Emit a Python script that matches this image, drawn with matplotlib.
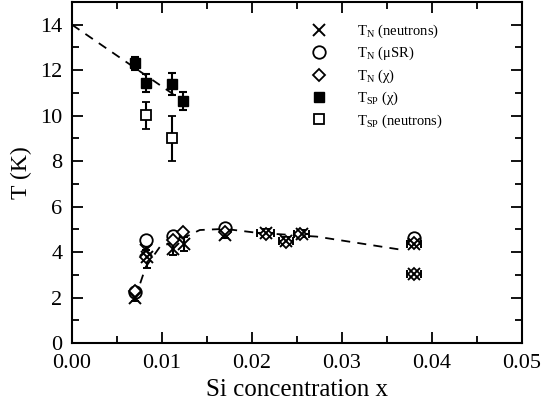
import matplotlib
matplotlib.use("Agg")
import matplotlib.pyplot as plt
import numpy as np
from matplotlib.ticker import MultipleLocator
from matplotlib.lines import Line2D

plt.rcParams['font.family'] = ['Liberation Serif', 'DejaVu Serif']
plt.rcParams['mathtext.fontset'] = 'custom'
plt.rcParams['mathtext.rm'] = 'Liberation Serif'
plt.rcParams['mathtext.it'] = 'Liberation Serif:italic'

# T_SP (chi), filled squares
sp_chi_x = [0.00704, 0.0082, 0.01115, 0.0123]
sp_chi_y = [12.3, 11.42, 11.39, 10.66]
sp_chi_err = [0.3, 0.4, 0.5, 0.4]

# T_SP (neutrons), open squares
sp_neu_x = [0.0082, 0.01115]
sp_neu_y = [10.02, 9.0]
sp_neu_err = [0.6, 1.0]

# T_N (neutrons), crosses
tn_neu_x = [0.0070, 0.0082, 0.0083, 0.0112, 0.0124, 0.0170, 0.0215, 0.0238, 0.0255, 0.0380, 0.0380]
tn_neu_y = [2.0, 4.1, 3.8, 4.15, 4.35, 4.75, 4.85, 4.5, 4.8, 4.35, 3.05]
tn_neu_yerr = [0.15, 0.0, 0.5, 0.3, 0.3, 0.15, 0.15, 0.15, 0.15, 0.0, 0.0]
tn_neu_xerr = [0.0, 0.0, 0.0, 0.0, 0.0, 0.0, 0.0009, 0.0008, 0.0008, 0.0008, 0.0008]

# T_N (muSR), open circles
tn_musr_x = [0.0070, 0.0082, 0.0112, 0.0170, 0.0380]
tn_musr_y = [2.25, 4.53, 4.7, 5.05, 4.62]

# T_N (chi), open diamonds
tn_chi_x = [0.0070, 0.0082, 0.0112, 0.0123, 0.0170, 0.0215, 0.0238, 0.0253, 0.0380, 0.0380]
tn_chi_y = [2.3, 3.8, 4.55, 4.9, 4.9, 4.8, 4.45, 4.8, 4.4, 3.05]

# dashed guide lines
guide_sp_x = [0.0, 0.0131]
guide_sp_y = [14.0, 10.44]
guide_n_x = [0.0070, 0.0082, 0.0098, 0.0115, 0.0142, 0.0170, 0.0205, 0.0272, 0.0363]
guide_n_y = [1.95, 3.35, 4.25, 4.45, 4.97, 5.02, 4.85, 4.68, 4.12]

xticks = [0.00, 0.01, 0.02, 0.03, 0.04, 0.05]
yticks = [0, 2, 4, 6, 8, 10, 12, 14]

fig = plt.figure(figsize=(5.59, 4.07), dpi=100)
ax = fig.add_axes([72/559, 1-343/407, 450/559, 341/407])

lw = 1.3
ax.plot(guide_sp_x, guide_sp_y, ls=(0, (5, 4)), color='black', lw=lw)
ax.plot(guide_n_x, guide_n_y, ls=(0, (5, 4)), color='black', lw=lw)

ekw = dict(ecolor='black', elinewidth=1.5, capsize=3, capthick=1.5, ls='none')
ax.errorbar(sp_chi_x, sp_chi_y, yerr=sp_chi_err, marker='s', ms=7, mfc='black', mec='black', **ekw)
ax.errorbar(sp_neu_x, sp_neu_y, yerr=sp_neu_err, marker='s', ms=7, mfc='white', mec='black', mew=1.3, **ekw)
ax.errorbar(tn_neu_x, tn_neu_y, yerr=tn_neu_yerr, xerr=tn_neu_xerr, marker='x', ms=9, mec='black', mew=1.4, **ekw)
ax.plot(tn_musr_x, tn_musr_y, ls='none', marker='o', ms=9, mfc='white', mec='black', mew=1.3)
ax.plot(tn_chi_x, tn_chi_y, ls='none', marker='D', ms=6.5, mfc='white', mec='black', mew=1.3)

ax.set_xlim(0, 0.05)
ax.set_ylim(0, 15)
ax.set_xticks(xticks)
ax.set_xticklabels([f"{v:.2f}" for v in xticks])
ax.set_yticks(yticks)
ax.xaxis.set_minor_locator(MultipleLocator(0.005))
ax.yaxis.set_minor_locator(MultipleLocator(1))
ax.tick_params(which='both', direction='in', top=True, right=True, width=1.3, labelsize=16)
ax.tick_params(which='major', length=8)
ax.tick_params(which='minor', length=5)
ax.tick_params(axis='x', which='major', pad=8)
ax.tick_params(axis='y', which='major', pad=7)
for s in ax.spines.values():
    s.set_linewidth(1.5)

ax.set_xlabel('Si concentration x', fontsize=18, labelpad=4)
ax.set_ylabel('T (K)', fontsize=17, labelpad=6)

handles = [
    Line2D([], [], ls='none', marker='x', ms=9, mec='black', mew=1.4),
    Line2D([], [], ls='none', marker='o', ms=9, mfc='white', mec='black', mew=1.3),
    Line2D([], [], ls='none', marker='D', ms=6.5, mfc='white', mec='black', mew=1.3),
    Line2D([], [], ls='none', marker='s', ms=7, mfc='black', mec='black'),
    Line2D([], [], ls='none', marker='s', ms=7, mfc='white', mec='black', mew=1.3),
]
labels = [r'T$_\mathrm{N}$ (neutrons)', r'T$_\mathrm{N}$ (μSR)', r'T$_\mathrm{N}$ (χ)',
          r'T$_\mathrm{SP}$ (χ)', r'T$_\mathrm{SP}$ (neutrons)']
ax.legend(handles, labels, loc='upper left', frameon=False, fontsize=10.5,
          bbox_to_anchor=(0.487, 0.978), handletextpad=1.6, labelspacing=0.35)

fig.savefig('out.png', dpi=100)
